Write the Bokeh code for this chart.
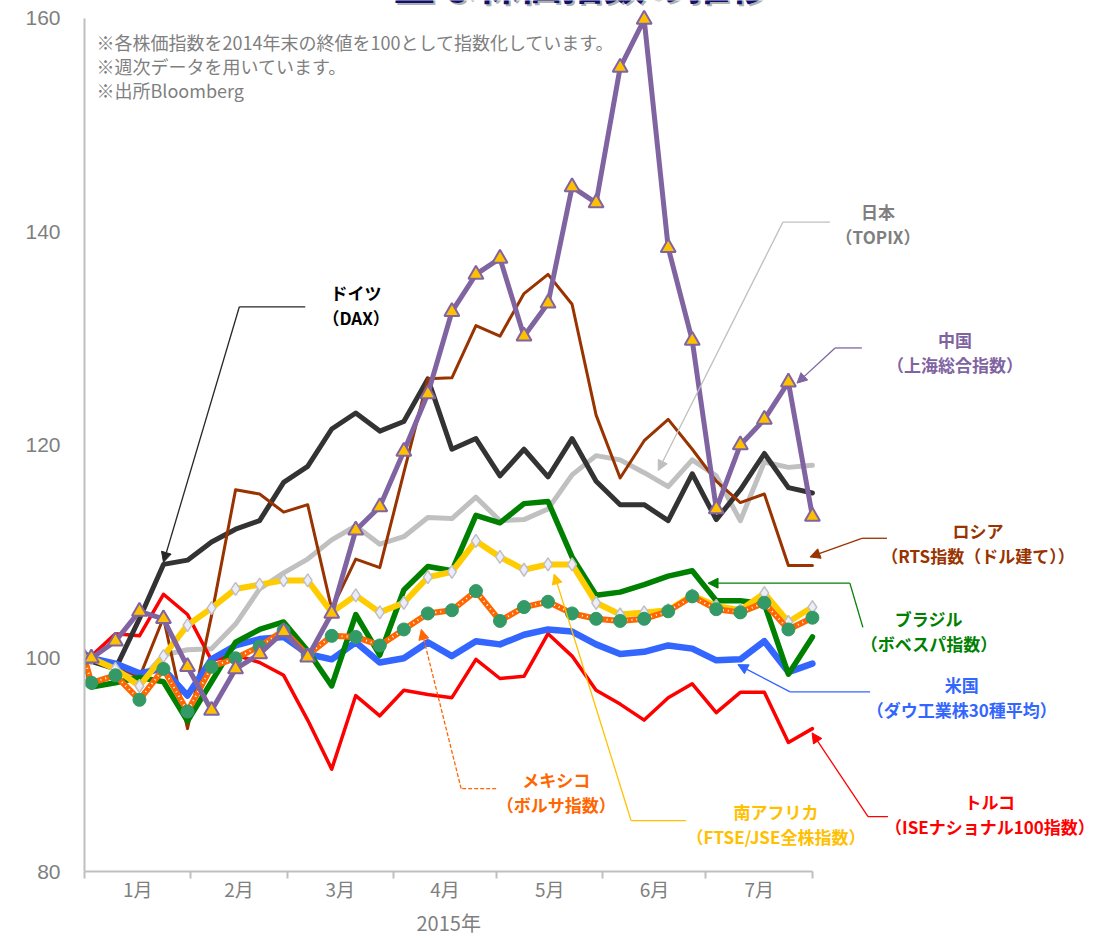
import pandas as pd
from bokeh.plotting import figure
from bokeh.models import Range1d, FixedTicker, Label, Arrow, NormalHead, Title
from bokeh.embed import file_html
from bokeh.resources import INLINE

# ---------------- data (weekly, 2014-12-31 = 100) ----------------
dates = ["2014-12-31", "2015-01-02", "2015-01-09", "2015-01-16", "2015-01-23", "2015-01-30",
         "2015-02-06", "2015-02-13", "2015-02-20", "2015-02-27", "2015-03-06", "2015-03-13",
         "2015-03-20", "2015-03-27", "2015-04-03", "2015-04-10", "2015-04-17", "2015-04-24",
         "2015-05-01", "2015-05-08", "2015-05-15", "2015-05-22", "2015-05-29", "2015-06-05",
         "2015-06-12", "2015-06-19", "2015-06-26", "2015-07-03", "2015-07-10", "2015-07-17",
         "2015-07-24", "2015-07-31"]

china = [100, 100, 101.6, 104.4, 103.7, 99.2, 95.1, 99.0, 100.4, 102.5, 100.1, 104.2, 112.0, 114.2,
         119.4, 124.8, 132.5, 136.0, 137.5, 130.2, 133.3, 144.2, 142.7, 155.4, 159.9, 138.5, 129.8,
         114.0, 120.0, 122.4, 125.9, 113.3]
germany = [100, 99.7, 99.0, 103.7, 108.8, 109.2, 110.9, 112.1, 112.9, 116.5, 118.0, 121.5, 123.0,
           121.3, 122.2, 126.2, 119.6, 120.6, 117.1, 119.6, 117.0, 120.6, 116.6, 114.4, 114.4, 112.9,
           117.3, 113.0, 115.8, 119.2, 116.0, 115.5]
japan = [100, 100, 99.4, 97.8, 100.3, 100.8, 100.9, 103.2, 106.5, 108.0, 109.3, 111.1, 112.4, 110.7,
         111.4, 113.2, 113.1, 115.1, 112.9, 113.0, 114.0, 117.2, 119.0, 118.6, 117.4, 116.1, 118.6,
         117.1, 112.9, 118.4, 117.9, 118.1]
russia = [100, 100.1, 99.3, 98.2, 103.8, 93.4, 104.0, 115.8, 115.4, 113.7, 114.4, 104.6, 109.3, 108.5,
          117.4, 126.2, 126.3, 131.2, 130.2, 134.2, 136.0, 133.2, 122.8, 116.9, 120.4, 122.4, 119.6,
          116.6, 114.6, 115.4, 108.7, 108.7]
turkey = [100, 100.2, 102.3, 102.1, 106.0, 104.1, 99.8, 100.3, 99.6, 98.4, 94.2, 89.6, 96.5, 94.6,
          97.0, 96.6, 96.3, 99.9, 98.1, 98.3, 102.3, 100.2, 97.0, 95.7, 94.2, 96.3, 97.6, 94.9, 96.8,
          96.8, 92.1, 93.4]
usa = [100, 100.0, 99.5, 98.6, 99.0, 96.5, 99.9, 101.2, 101.8, 102.0, 100.4, 99.9, 101.5, 99.6, 100.0,
       101.5, 100.2, 101.6, 101.3, 102.2, 102.7, 102.5, 101.3, 100.4, 100.6, 101.2, 100.9, 99.8, 99.9,
       101.6, 98.7, 99.5]
brazil = [100, 97.3, 97.7, 98.2, 97.8, 94.1, 97.8, 101.5, 102.7, 103.4, 100.7, 97.4, 104.1, 100.3,
          106.4, 108.6, 108.2, 113.4, 112.7, 114.5, 114.7, 109.5, 105.9, 106.2, 106.9, 107.7, 108.2,
          105.4, 105.4, 105.1, 98.5, 102.0]
mexico = [100, 97.7, 98.4, 96.1, 99.0, 95.0, 99.2, 100.0, 101.1, 102.6, 100.3, 102.1, 102.0, 101.2,
          102.7, 104.2, 104.5, 106.3, 103.5, 104.8, 105.3, 104.2, 103.7, 103.5, 103.7, 104.4, 105.8,
          104.6, 104.3, 105.2, 102.7, 103.8]
safrica = [100, 100.0, 99.0, 97.4, 100.2, 103.1, 104.7, 106.5, 106.9, 107.3, 107.3, 104.3, 105.9,
           104.3, 105.2, 107.6, 108.1, 111.0, 109.5, 108.3, 108.8, 108.8, 105.2, 104.1, 104.3, 104.5,
           105.9, 104.9, 104.5, 106.1, 103.4, 104.8]

month_labels = ["1月", "2月", "3月", "4月", "5月", "6月", "7月"]
month_edges = ["2014-12-31", "2015-01-31", "2015-02-28", "2015-03-31", "2015-04-30",
               "2015-05-31", "2015-06-30", "2015-07-31"]
y_ticks = [80, 100, 120, 140, 160]
year_label = "2015年"
title_text = "主な株価指数の推移"
notes = ["※各株価指数を2014年末の終値を100として指数化しています。",
         "※週次データを用いています。",
         "※出所Bloomberg"]

# ---------------- helpers ----------------
t0 = pd.Timestamp(dates[0])
days = [(pd.Timestamp(d) - t0).days for d in dates]
edges = [(pd.Timestamp(d) - t0).days for d in month_edges]
mids = [(a + b) / 2 for a, b in zip(edges[:-1], edges[1:])]

JP = "Noto Sans CJK JP"
AXIS = "#BFBFBF"
TXT = "#7F7F7F"

# frame reaches the top edge of the page so the cut-off slide title can be shown there;
# the y axis itself is bounded to 80..160
p = figure(width=1103, height=937, x_range=Range1d(0, 295.9), y_range=Range1d(80, 161.684),
           output_backend="svg", toolbar_location=None,
           min_border_left=84, min_border_right=3, min_border_top=0, min_border_bottom=64)
p.outline_line_color = None
p.grid.visible = False
p.background_fill_color = "white"
p.border_fill_color = "white"

# y axis
p.yaxis.bounds = (y_ticks[0], y_ticks[-1])
p.yaxis.ticker = FixedTicker(ticks=y_ticks)
p.yaxis.major_tick_out = 0
p.yaxis.major_tick_in = 0
p.yaxis.minor_tick_out = 0
p.yaxis.minor_tick_in = 0
p.yaxis.axis_line_color = AXIS
p.yaxis.axis_line_width = 2
p.yaxis.major_label_text_color = TXT
p.yaxis.major_label_text_font = "Liberation Sans"
p.yaxis.major_label_text_font_size = "21px"
p.yaxis.major_label_standoff = 24

# x axis
p.xaxis.bounds = (edges[0], edges[-1])
p.xaxis.ticker = FixedTicker(ticks=mids, minor_ticks=edges)
p.xaxis.major_label_overrides = {m: lab for m, lab in zip(mids, month_labels)}
p.xaxis.major_tick_out = 0
p.xaxis.major_tick_in = 0
p.xaxis.minor_tick_out = 7
p.xaxis.minor_tick_in = 0
p.xaxis.minor_tick_line_color = AXIS
p.xaxis.minor_tick_line_width = 2
p.xaxis.axis_line_color = AXIS
p.xaxis.axis_line_width = 2
p.xaxis.major_label_text_color = TXT
p.xaxis.major_label_text_font = JP
p.xaxis.major_label_text_font_size = "19px"
p.xaxis.major_label_standoff = -4

# year caption under the month labels
p.add_layout(Title(text=year_label, align="left", offset=332, standoff=2, text_font=JP,
                   text_font_size="20px", text_font_style="normal", text_color=TXT), "below")

# ---------------- series ----------------
kw = dict(line_join="round", line_cap="round")
p.line(days, japan, line_color="#C0C0C0", line_width=5, **kw)
p.line(days, turkey, line_color="#FF0000", line_width=3.5, **kw)
p.line(days, germany, line_color="#333333", line_width=5, **kw)
p.line(days, russia, line_color="#993300", line_width=3, **kw)
p.line(days, usa, line_color="#3366FF", line_width=6.5, **kw)
p.line(days, brazil, line_color="#008000", line_width=5.5, **kw)
p.line(days, safrica, line_color="#FFCC00", line_width=6, **kw)
p.scatter(days, safrica, marker="diamond", size=13, fill_color="#ECECFA", line_color="#BFBFBF",
          line_width=1.5)
p.line(days, mexico, line_color="#FF6600", line_width=6, **kw)
p.line(days, mexico, line_color="white", line_width=2, line_dash="1 4")
p.scatter(days, mexico, marker="circle", size=13, fill_color="#339966", line_color="#339966")
p.line(days, china, line_color="#8064A2", line_width=5, **kw)
p.scatter(days, china, marker="triangle", size=15, fill_color="#FFC000", line_color="#8064A2",
          line_width=2)

# ---------------- notes ----------------
for i, t in enumerate(notes):
    p.add_layout(Label(x=3.5, y=157.75 - 2.25 * i, text=t, text_font=JP, text_font_size="18px",
                       text_color=TXT, text_align="left", text_baseline="middle"))

# ---------------- callouts ----------------
callouts = [
    # lines, colour, line colour, label centre x, first-line y, path (start..corner), tip, dashed
    (["ドイツ", "（DAX）"], "#000000", "#262626", 79.1, 134.3, [(64.3, 132.96), (45.1, 132.96)], (23.0, 109.0), False),
    (["日本", "（TOPIX）"], TXT, "#BFBFBF", 231.1, 141.9, [(217.1, 140.9), (203.4, 140.9)], (167.1, 117.6), False),
    (["中国", "（上海総合指数）"], "#8064A2", "#8064A2", 253.5, 129.9, [(226.4, 129.1), (218.6, 129.1)], (207.5, 125.8), False),
    (["ロシア", "（RTS指数（ドル建て））"], "#993300", "#993300", 260.2, 112.0, [(233.7, 111.25), (226.4, 111.25)], (211.3, 109.5), False),
    (["ブラジル", "（ボベスパ指数）"], "#008000", "#008000", 245.9, 103.7, [(226.7, 102.9), (222.9, 107.04)], (181.6, 107.04), False),
    (["米国", "（ダウ工業株30種平均）"], "#3366FF", "#3366FF", 255.5, 97.5, [(228.8, 96.84), (205.5, 96.84)], (190.3, 99.4), False),
    (["トルコ", "（ISEナショナル100指数）"], "#FF0000", "#FF0000", 263.7, 86.6, [(234.0, 85.15), (228.2, 85.15)], (211.9, 93.0), False),
    (["メキシコ", "（ボルサ指数）"], "#FF6600", "#FF6600", 137.4, 88.6, [(119.9, 87.77), (109.7, 87.77)], (98.1, 102.7), True),
    (["南アフリカ", "（FTSE/JSE全株指数）"], "#FFC000", "#FFC000", 201.4, 85.6, [(175.2, 84.77), (159.2, 84.77)], (136.8, 107.9), False),
]

for lines, col, lcol, lx, ly, path, tip, dashed in callouts:
    for k, t in enumerate(lines):
        p.add_layout(Label(x=lx, y=ly - 2.35 * k, text=t, text_font=JP, text_font_size="17px",
                           text_font_style="bold", text_color=col, text_align="center",
                           text_baseline="middle"))
    dash = "4 2" if dashed else "solid"
    p.line([q[0] for q in path], [q[1] for q in path], line_color=lcol, line_width=1.3,
           line_dash=dash)
    p.add_layout(Arrow(end=NormalHead(size=10, fill_color=lcol, line_color=lcol, line_width=1),
                       x_start=path[-1][0], y_start=path[-1][1], x_end=tip[0], y_end=tip[1],
                       line_color=lcol, line_width=1.3, line_dash=dash))

# ---------------- cut-off title of the slide (only its lower edge is on the page) ----------------
p.add_layout(Label(x=145.0, y=160.56, text=title_text, text_font=JP, text_font_size="42px",
                   text_font_style="bold", text_color="#B0B0B0", text_align="center",
                   text_baseline="bottom", x_offset=2, y_offset=-2))
p.add_layout(Label(x=145.0, y=160.56, text=title_text, text_font=JP, text_font_size="42px",
                   text_font_style="bold", text_color="#10106E", text_align="center",
                   text_baseline="bottom"))

open("out.html", "w").write(file_html(p, INLINE))
